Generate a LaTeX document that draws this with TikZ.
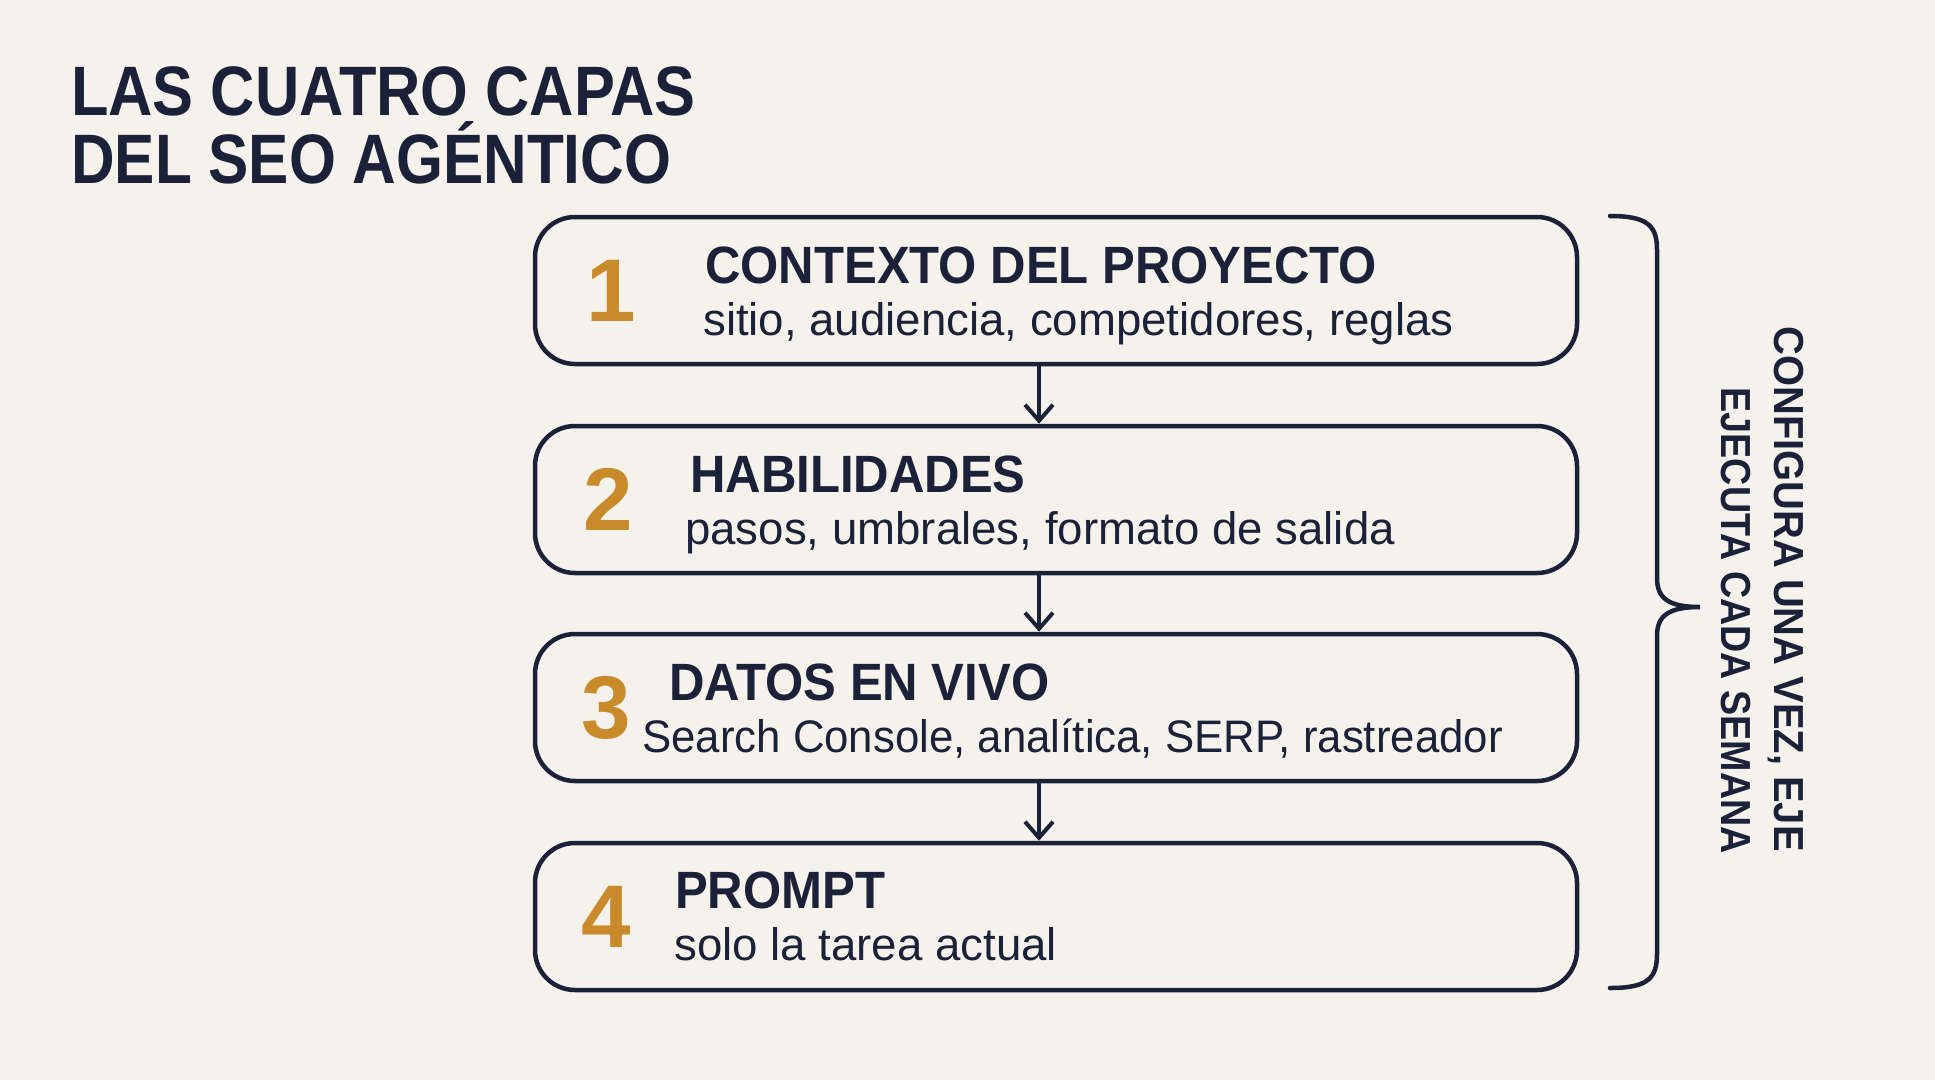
\documentclass[tikz,border=0pt]{standalone}
\usepackage{fontspec}
\usepackage{graphicx}
\setmainfont{Liberation Sans}
\usetikzlibrary{arrows.meta}
\definecolor{bgc}{HTML}{F5F2EB}
\definecolor{navy}{HTML}{1B2139}
\definecolor{gold}{HTML}{C98A2C}
\begin{document}
\begin{tikzpicture}[x=1pt,y=-1pt,
  box/.style={draw=navy, line width=4.5pt, rounded corners=40pt, minimum width=1042pt, minimum height=147pt, fill=bgc, inner sep=0pt},
  num/.style={text=gold, font=\fontsize{89}{89}\selectfont\bfseries, inner sep=0pt, anchor=center},
  head/.style={text=navy, font=\fontsize{52.5}{52}\selectfont\bfseries, anchor=base west, inner sep=0pt},
  sub/.style={text=navy, font=\fontsize{45.6}{46}\selectfont, anchor=base west, inner sep=0pt},
  ttl/.style={text=navy, font=\fontsize{70}{70}\selectfont\bfseries, anchor=base west, inner sep=0pt},
  side/.style={text=navy, font=\fontsize{42}{42}\selectfont\bfseries, anchor=base east, inner sep=0pt, rotate=-90},
  arr/.style={draw=navy, line width=4pt, -{Straight Barb[length=16pt,width=28pt]}},
  brace/.style={draw=navy, line width=4.5pt, line cap=round}
]
\fill[bgc] (0,0) rectangle (1935,1080);
\useasboundingbox (0,0) rectangle (1935,1080);

% title
\node[ttl] (t1) at (71,115) {\scalebox{0.876}[1]{LAS CUATRO CAPAS}};
\node[ttl] (t2) at (71,183) {\scalebox{0.862}[1]{DEL SEO AGÉNTICO}};

% boxes
\node[box] (b1) at (1056,290.5) {};
\node[box] (b2) at (1056,499.5) {};
\node[box] (b3) at (1056,707.5) {};
\node[box] (b4) at (1056,916.5) {};

% numbers
\node[num] (n1) at (611,290.5) {1};
\node[num] (n2) at (608,499.5) {2};
\node[num] (n3) at (606,707.5) {3};
\node[num] (n4) at (606,916.5) {4};

% headings
\node[head] (h1) at (705,283) {\scalebox{0.935}[1]{CONTEXTO DEL PROYECTO}};
\node[head] (h2) at (690,492) {\scalebox{0.935}[1]{HABILIDADES}};
\node[head] (h3) at (669,700) {\scalebox{0.935}[1]{DATOS EN VIVO}};
\node[head] (h4) at (675,908) {\scalebox{0.935}[1]{PROMPT}};

% subtitles
\node[sub] (s1) at (703,335) {sitio, audiencia, competidores, reglas};
\node[sub] (s2) at (685,544) {pasos, umbrales, formato de salida};
\node[sub] (s3) at (642,752) {\scalebox{0.96}[1]{Search Console, analítica, SERP, rastreador}};
\node[sub] (s4) at (674,960) {solo la tarea actual};

% arrows
\draw[arr] ([xshift=-17pt]b1.south) -- ([xshift=-17pt]b2.north);
\draw[arr] ([xshift=-17pt]b2.south) -- ([xshift=-17pt]b3.north);
\draw[arr] ([xshift=-17pt]b3.south) -- ([xshift=-17pt]b4.north);

% brace
\coordinate (bt) at (1610,216);
\coordinate (bm) at (1700,607);
\coordinate (bb) at (1610,988);
\draw[brace] (bt) .. controls (1648,216) and (1657,226) .. (1657,250)
  -- (1657,578) .. controls (1657,598) and (1668,607) .. (bm)
  .. controls (1668,607) and (1657,616) .. (1657,636)
  -- (1657,954) .. controls (1657,978) and (1648,988) .. (bb);

% side text
\node[side] (r1) at (1774,852) {\scalebox{0.95}[1]{CONFIGURA UNA VEZ, EJE}};
\node[side] (r2) at (1721,854) {\scalebox{0.897}[1]{EJECUTA CADA SEMANA}};
\end{tikzpicture}
\end{document}
